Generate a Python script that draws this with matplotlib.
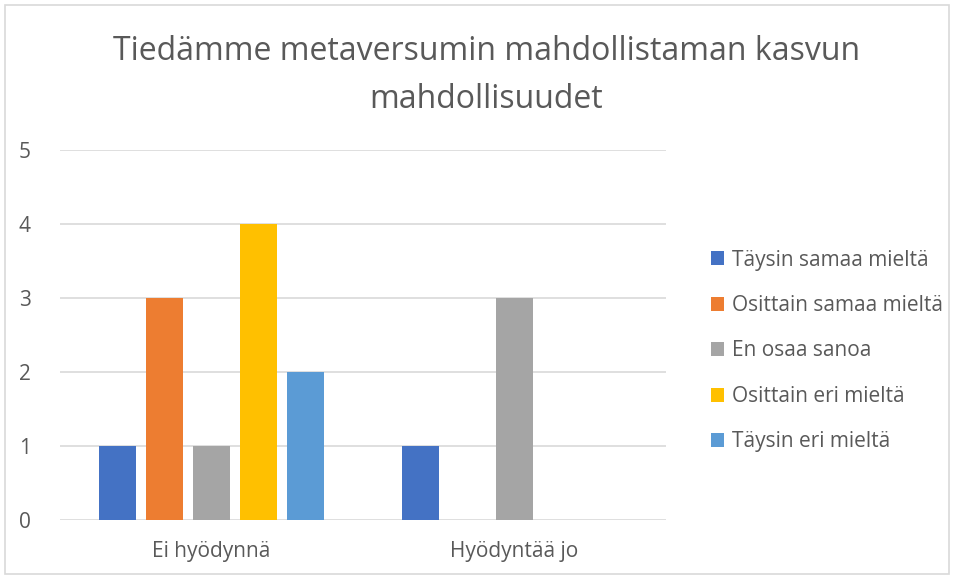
import matplotlib.pyplot as plt
import numpy as np
from matplotlib.patches import Rectangle

categories = ["Ei hyödynnä", "Hyödyntää jo"]
series = ["Täysin samaa mieltä", "Osittain samaa mieltä", "En osaa sanoa",
          "Osittain eri mieltä", "Täysin eri mieltä"]
values = [
    [1, 1],
    [3, 0],
    [1, 3],
    [4, 0],
    [2, 0],
]
colors = ["#4472C4", "#ED7D31", "#A5A5A5", "#FFC000", "#5B9BD5"]
title = "Tiedämme metaversumin mahdollistaman kasvun\nmahdollisuudet"

text_color = "#595959"
plt.rcParams['font.family'] = ['Open Sans', 'DejaVu Sans']

fig = plt.figure(figsize=(9.54, 5.79), dpi=100)
ax = fig.add_axes([60 / 954, 1 - 520 / 579, 606 / 954, 370 / 579])

x = np.arange(len(categories))
step = 0.155
width = 0.12
for i, (name, vals, c) in enumerate(zip(series, values, colors)):
    ax.bar(x + (i - 2) * step, vals, width, color=c, label=name, zorder=3)

ax.set_xlim(-0.5, 1.5)
ax.set_ylim(0, 5)
ax.set_yticks(range(6))
ax.set_xticks(x)
ax.set_xticklabels(categories)
ax.grid(axis='y', color='#D9D9D9', linewidth=1.2, zorder=0)
for s in ax.spines.values():
    s.set_visible(False)
ax.tick_params(axis='both', length=0, labelsize=15, labelcolor=text_color)
ax.tick_params(axis='y', pad=21)
ax.tick_params(axis='x', pad=15)

fig.text(0.51, 1 - 76 / 579, title, ha='center', va='center', fontsize=23,
         color=text_color, linespacing=1.6)

leg = fig.legend(loc='center left', bbox_to_anchor=(692 / 954, 1 - 351 / 579),
                 frameon=False, fontsize=15, labelcolor=text_color,
                 handlelength=0.65, handleheight=0.65, handletextpad=0.35,
                 labelspacing=1.17)

fig.patches.append(Rectangle((5 / 954, 5 / 579), 944 / 954, 569 / 579,
                             transform=fig.transFigure, fill=False,
                             edgecolor='#D9D9D9', linewidth=1.2))

fig.savefig("out.png", dpi=100)
